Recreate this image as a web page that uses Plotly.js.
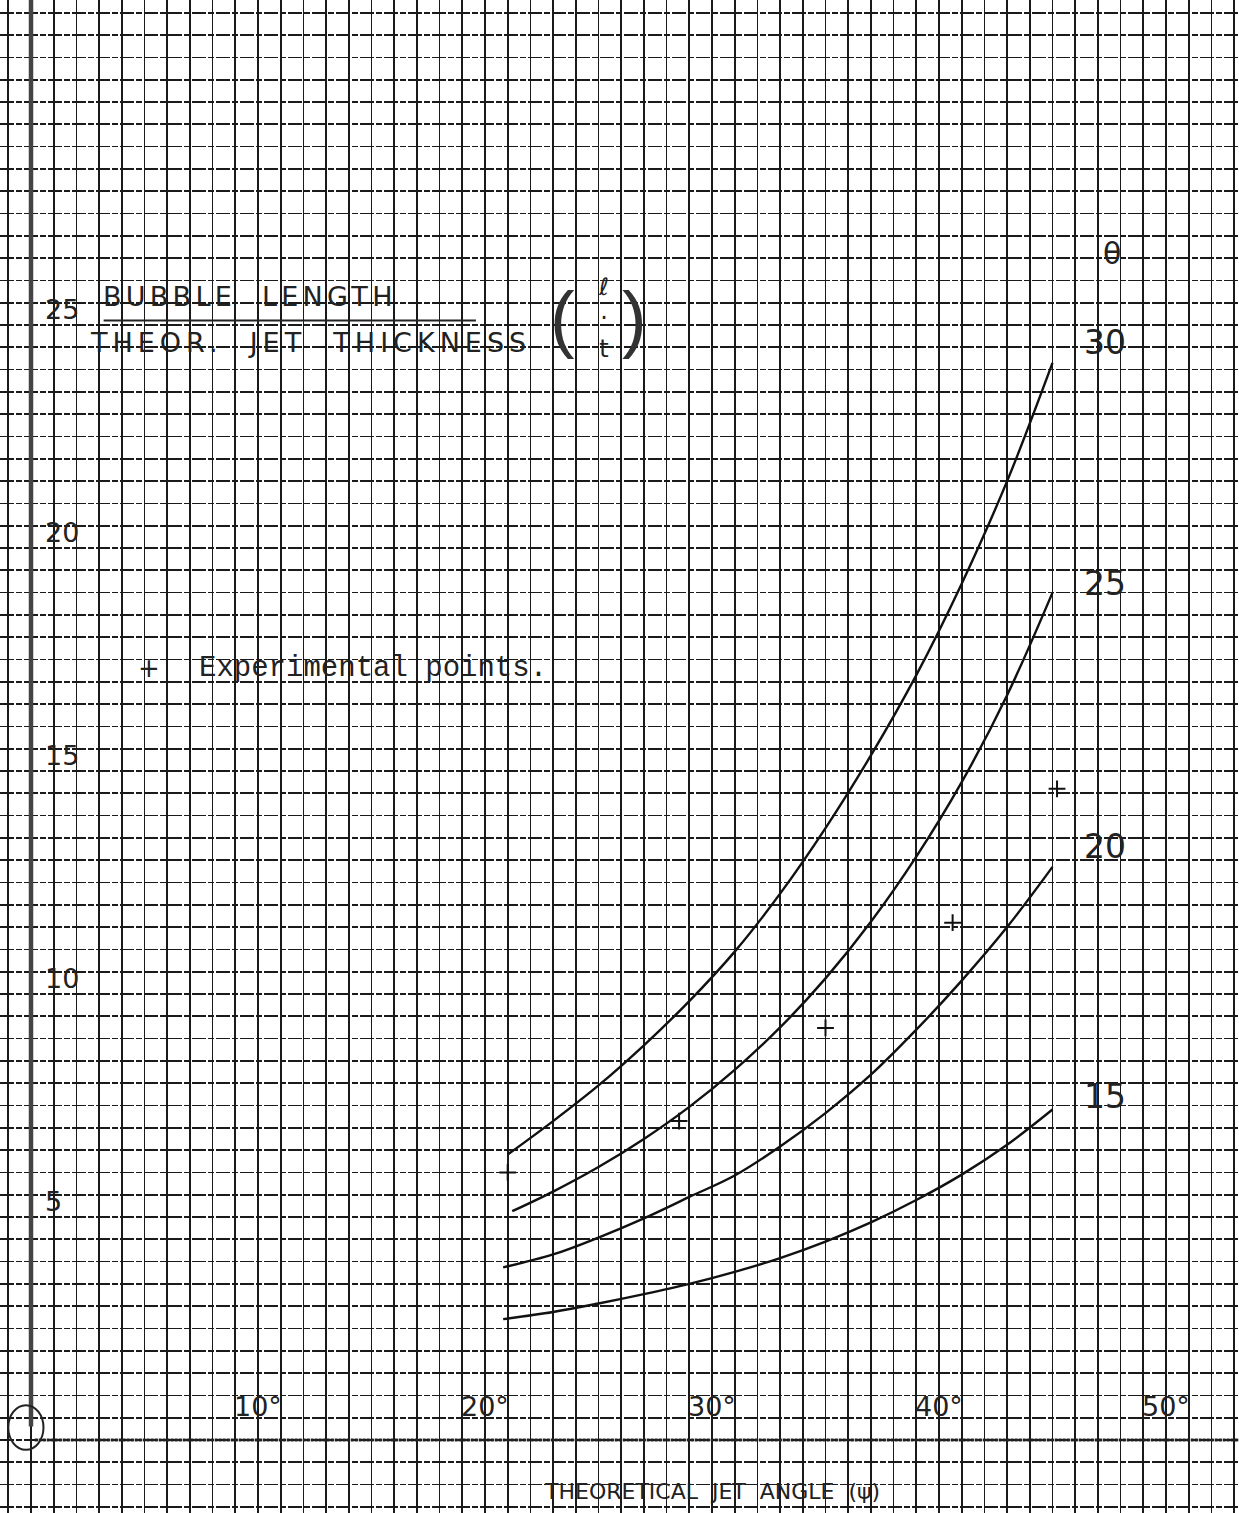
<!DOCTYPE html>
<html>
<head>
<meta charset="utf-8">
<script src="https://cdn.plot.ly/plotly-3.0.1.min.js"></script>
<style>
  html, body { margin: 0; padding: 0; background: #fff; }
  #chart { width: 1239px; height: 1513px; }
</style>
</head>
<body>
<div id="chart"></div>
<script>
// Bubble length / theoretical jet thickness (l/t) against theoretical jet angle (psi),
// one curve per theta value, plus experimental points.

const psi30 = [21, 23, 25, 27, 29, 31, 33, 35, 37, 39, 41, 43, 45];
const ratio30 = [6.4, 7.15, 7.95, 8.85, 9.84, 10.95, 12.25, 13.72, 15.35, 17.15, 19.2, 21.5, 24.15];

const psi25 = [21.2, 23, 25, 27, 29, 31, 33, 35, 37, 39, 41, 43, 45];
const ratio25 = [5.13, 5.57, 6.12, 6.75, 7.47, 8.3, 9.25, 10.35, 11.62, 13.08, 14.75, 16.7, 19.0];

const psi20 = [20.8, 23, 25, 27, 29, 31, 33, 35, 37, 39, 41, 43, 45];
const ratio20 = [3.87, 4.16, 4.54, 4.97, 5.45, 5.93, 6.58, 7.33, 8.19, 9.2, 10.3, 11.5, 12.85];

const psi15 = [20.8, 23, 25, 27, 29, 31, 33, 35, 37, 39, 41, 43, 45];
const ratio15 = [2.71, 2.87, 3.06, 3.27, 3.5, 3.77, 4.08, 4.45, 4.88, 5.38, 5.95, 6.62, 7.41];

const psiExp = [21.0, 28.55, 35.0, 40.6, 45.2];
const ratioExp = [6.0, 7.15, 9.24, 11.6, 14.6];

const curveThetas = ['30', '25', '20', '15'];
const curveLabelY = [24.6, 19.2, 13.3, 7.7];

const xTickVals = [10, 20, 30, 40, 50];
const xTickText = ['10°', '20°', '30°', '40°', '50°'];
const yTickVals = [5, 10, 15, 20, 25];
const yTickText = ['5', '10', '15', '20', '25'];

const ink = '#111';
const handFont = { family: 'DejaVu Sans', size: 27, color: '#222' };

function curve(x, y) {
  return {
    x: x, y: y, type: 'scatter', mode: 'lines',
    line: { color: ink, width: 2.4, shape: 'spline', smoothing: 1.0 },
    hoverinfo: 'skip', showlegend: false
  };
}

const traces = [
  curve(psi30, ratio30),
  curve(psi25, ratio25),
  curve(psi20, ratio20),
  curve(psi15, ratio15),
  {
    x: psiExp, y: ratioExp, type: 'scatter', mode: 'markers',
    marker: { symbol: 'cross-thin', size: 12, color: ink, line: { color: ink, width: 2 } },
    hoverinfo: 'skip', showlegend: false
  }
];

const annotations = [];

xTickVals.forEach((v, i) => {
  annotations.push({
    x: v, y: 0.35, xref: 'x', yref: 'y', text: xTickText[i], showarrow: false,
    xanchor: 'center', yanchor: 'bottom', font: handFont
  });
});

yTickVals.forEach((v, i) => {
  annotations.push({
    x: 0.55, y: v - 0.05, xref: 'x', yref: 'y', text: yTickText[i], showarrow: false,
    xanchor: 'left', yanchor: 'bottom', font: handFont
  });
});

curveThetas.forEach((t, i) => {
  annotations.push({
    x: 46.3, y: curveLabelY[i], xref: 'x', yref: 'y', text: t, showarrow: false,
    xanchor: 'left', yanchor: 'middle', font: { family: 'DejaVu Sans', size: 33, color: '#222' }
  });
});

// theta symbol heading the curve labels
annotations.push({
  x: 47.6, y: 26.6, xref: 'x', yref: 'y', text: 'θ', showarrow: false,
  xanchor: 'center', yanchor: 'middle', font: { family: 'DejaVu Sans', size: 30, color: '#222' }
});

// y-axis title written as a fraction
annotations.push({
  x: 9.65, y: 25.25, xref: 'x', yref: 'y', text: 'BUBBLE  LENGTH', showarrow: false,
  xanchor: 'center', yanchor: 'bottom', font: { family: 'DejaVu Sans', size: 27, color: '#222' }
});
annotations.push({
  x: 12.3, y: 25.0, xref: 'x', yref: 'y', text: 'THEOR.  JET  THICKNESS', showarrow: false,
  xanchor: 'center', yanchor: 'top', font: { family: 'DejaVu Sans', size: 27, color: '#222' }
});
annotations.push({
  x: 23.4, y: 25.15, xref: 'x', yref: 'y', text: '(', showarrow: false,
  xanchor: 'center', yanchor: 'middle', font: { family: 'Liberation Sans', size: 74, color: '#333' }
});
annotations.push({
  x: 25.2, y: 25.15, xref: 'x', yref: 'y', text: 'ℓ<br>·<br>t', showarrow: false,
  xanchor: 'center', yanchor: 'middle', font: { family: 'DejaVu Sans', size: 24, color: '#222' }
});
annotations.push({
  x: 26.6, y: 25.15, xref: 'x', yref: 'y', text: ')', showarrow: false,
  xanchor: 'center', yanchor: 'middle', font: { family: 'Liberation Sans', size: 74, color: '#333' }
});

// legend entry for the experimental points
annotations.push({
  x: 5.2, y: 17.3, xref: 'x', yref: 'y', text: '+', showarrow: false,
  xanchor: 'center', yanchor: 'middle', font: { family: 'DejaVu Sans', size: 26, color: '#222' }
});
annotations.push({
  x: 7.3, y: 17.3, xref: 'x', yref: 'y', text: 'Experimental points.', showarrow: false,
  xanchor: 'left', yanchor: 'middle', font: { family: 'Liberation Mono', size: 29, color: '#222' }
});

// x-axis title
annotations.push({
  x: 22.5, y: -1.15, xref: 'x', yref: 'y', text: 'THEORETICAL  JET  ANGLE  (ψ)', showarrow: false,
  xanchor: 'left', yanchor: 'middle', font: { family: 'DejaVu Sans', size: 22, color: '#222' }
});

const shapes = [
  // y axis, running down into the circled origin
  { type: 'line', xref: 'x', yref: 'y', x0: 0, x1: 0, y0: 0.3, y1: 33,
    line: { color: '#444', width: 4.5 } },
  // x axis
  { type: 'line', xref: 'paper', yref: 'y', x0: 0.028, x1: 1, y0: 0, y1: 0,
    line: { color: '#222', width: 3, dash: '3px,1px' } },
  // circled origin
  { type: 'circle', xref: 'x', yref: 'y', x0: -1.0, x1: 0.55, y0: -0.22, y1: 0.78,
    line: { color: '#222', width: 2 } },
  // fraction bar of the y-axis title
  { type: 'line', xref: 'x', yref: 'y', x0: 3.2, x1: 19.6, y0: 25.1, y1: 25.1,
    line: { color: '#222', width: 2 } }
];

const layout = {
  width: 1239, height: 1513,
  margin: { l: 0, r: 0, t: 0, b: 0 },
  paper_bgcolor: '#fff', plot_bgcolor: '#fff',
  showlegend: false,
  xaxis: {
    range: [-31 / 22.7, (1239 - 31) / 22.7],
    tick0: 0, dtick: 1, showgrid: true, gridcolor: '#1a1a1a', gridwidth: 1.7,
    zeroline: false, showline: false, showticklabels: false, ticks: '', fixedrange: true
  },
  yaxis: {
    range: [-73 / 44.6, 1440 / 44.6],
    tick0: 0, dtick: 0.5, showgrid: true, gridcolor: '#1a1a1a', gridwidth: 1.7,
    griddash: '14px,2px,6px,2px',
    zeroline: false, showline: false, showticklabels: false, ticks: '', fixedrange: true
  },
  annotations: annotations,
  shapes: shapes
};

Plotly.newPlot('chart', traces, layout, { staticPlot: true, displayModeBar: false }).then(() => {
  // spread the hand-lettered title capitals
  document.querySelectorAll('g.annotation text').forEach(t => {
    const s = t.textContent;
    if (s.indexOf('BUBBLE') === 0) t.setAttribute('letter-spacing', '4.3px');
    if (s.indexOf('THEOR.') === 0) t.setAttribute('letter-spacing', '5px');
  });
});
</script>
</body>
</html>
